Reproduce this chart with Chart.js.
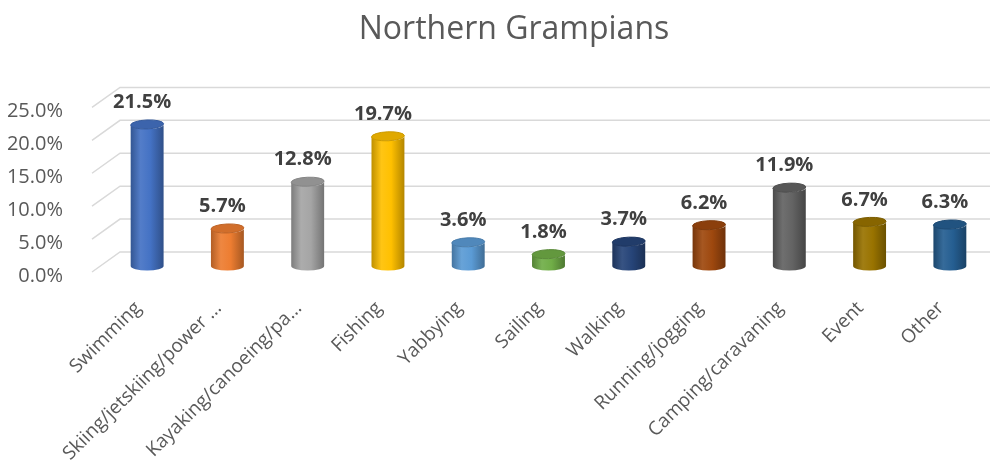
<!DOCTYPE html>
<html>
<head>
<meta charset="utf-8">
<title>Northern Grampians</title>
<script src="https://cdn.jsdelivr.net/npm/chart.js@4/dist/chart.umd.min.js"></script>
<style>
  html, body { margin: 0; padding: 0; background: #fff; }
  #wrap { width: 993px; height: 461px; position: relative; }
</style>
</head>
<body>
<div id="wrap"><canvas id="myChart"></canvas></div>
<script>
// data
const categories = ['Swimming', 'Skiing/jetskiing/power ...', 'Kayaking/canoeing/pa...', 'Fishing', 'Yabbying',
  'Sailing', 'Walking', 'Running/jogging', 'Camping/caravaning', 'Event', 'Other'];
const shares = [21.5, 5.7, 12.8, 19.7, 3.6, 1.8, 3.7, 6.2, 11.9, 6.7, 6.3];
const barColors = ['#4472C4', '#ED7D31', '#A5A5A5', '#FFC000', '#5B9BD5', '#70AD47',
  '#264478', '#9E480E', '#636363', '#997300', '#255E91'];
const yTickValues = [0, 5, 10, 15, 20, 25];

function mix(hex, target, amt) {
  const n = parseInt(hex.slice(1), 16);
  const r = (n >> 16) & 255, g = (n >> 8) & 255, b = n & 255;
  const m = (c) => Math.round(c + (target - c) * amt);
  return 'rgb(' + m(r) + ',' + m(g) + ',' + m(b) + ')';
}

// title in the reference sits a bit right of the canvas centre
const titleShift = {
  id: 'titleShift',
  afterLayout(chart) {
    if (chart.titleBlock) chart.titleBlock.left = 38;
  }
};

// 3d-ish back wall grid, side wall diagonals
const wallGrid = {
  id: 'wallGrid',
  beforeDatasetsDraw(chart) {
    const ctx = chart.ctx, y = chart.scales.y, area = chart.chartArea;
    ctx.save();
    ctx.strokeStyle = '#d9d9d9';
    ctx.lineWidth = 1.5;
    yTickValues.forEach(v => {
      const py = y.getPixelForValue(v);
      ctx.beginPath();
      ctx.moveTo(92, py + 6);
      ctx.lineTo(120, py - 14);
      ctx.lineTo(area.right, py - 14);
      ctx.stroke();
    });
    ctx.restore();
  }
};

// draw each bar as a cylinder from the bar element geometry
const cylinders = {
  id: 'cylinders',
  beforeDatasetDraw(chart, args) {
    const ctx = chart.ctx;
    const meta = chart.getDatasetMeta(args.index);
    meta.data.forEach((bar, i) => {
      const p = bar.getProps(['x', 'y', 'base', 'width'], true);
      const rx = p.width / 2, ry = 4.5;
      const col = barColors[i];
      const grad = ctx.createLinearGradient(p.x - rx, 0, p.x + rx, 0);
      grad.addColorStop(0, mix(col, 0, 0.25));
      grad.addColorStop(0.3, mix(col, 255, 0.08));
      grad.addColorStop(0.6, col);
      grad.addColorStop(1, mix(col, 0, 0.3));
      ctx.save();
      ctx.beginPath();
      ctx.moveTo(p.x - rx, p.y);
      ctx.lineTo(p.x - rx, p.base);
      ctx.ellipse(p.x, p.base, rx, ry, 0, Math.PI, 0, true);
      ctx.lineTo(p.x + rx, p.y);
      ctx.ellipse(p.x, p.y, rx, ry, 0, 0, Math.PI, false);
      ctx.closePath();
      ctx.fillStyle = grad;
      ctx.fill();
      ctx.beginPath();
      ctx.ellipse(p.x, p.y, rx, ry, -0.04, 0, Math.PI * 2);
      ctx.fillStyle = mix(col, 0, 0.12);
      ctx.fill();
      ctx.strokeStyle = mix(col, 0, 0.2);
      ctx.lineWidth = 1;
      ctx.stroke();
      ctx.restore();
    });
    return false;
  },
  afterDatasetsDraw(chart) {
    const ctx = chart.ctx;
    const meta = chart.getDatasetMeta(0);
    ctx.save();
    ctx.font = 'bold 20px "Open Sans"';
    ctx.fillStyle = '#404040';
    ctx.textAlign = 'center';
    ctx.textBaseline = 'bottom';
    meta.data.forEach((bar, i) => {
      ctx.fillText(shares[i].toFixed(1) + '%', bar.x - 5, bar.y - 12);
    });
    ctx.restore();
  }
};

const ctx = document.getElementById('myChart').getContext('2d');
const myChart = new Chart(ctx, {
  type: 'bar',
  data: {
    labels: categories,
    datasets: [{
      label: 'Northern Grampians',
      data: shares,
      backgroundColor: barColors,
      barPercentage: 0.41,
      categoryPercentage: 1
    }]
  },
  options: {
    responsive: true,
    maintainAspectRatio: false,
    animation: false,
    layout: { padding: { left: 0, right: 3, top: 0, bottom: 0 } },
    plugins: {
      legend: { display: false },
      tooltip: { enabled: false },
      title: {
        display: true,
        text: 'Northern Grampians',
        color: '#595959',
        font: { family: '"Open Sans"', size: 32, weight: 'normal' },
        padding: { top: 11, bottom: 52 }
      }
    },
    scales: {
      y: {
        min: 0,
        max: 25,
        grid: { display: false },
        border: { display: false },
        afterFit(scale) { scale.width = 107; },
        afterBuildTicks(scale) { scale.ticks = yTickValues.map(v => ({ value: v })); },
        ticks: {
          padding: 36,
          labelOffset: 10,
          color: '#595959',
          font: { family: '"Open Sans"', size: 20 },
          callback: (v) => Number(v).toFixed(1) + '%'
        }
      },
      x: {
        grid: { display: false },
        border: { display: false },
        afterFit(scale) { scale.height = 195; },
        ticks: {
          autoSkip: false,
          minRotation: 45,
          maxRotation: 45,
          padding: 23,
          labelOffset: -9,
          color: '#595959',
          font: { family: '"Open Sans"', size: 19 }
        }
      }
    }
  },
  plugins: [titleShift, wallGrid, cylinders]
});
</script>
</body>
</html>
